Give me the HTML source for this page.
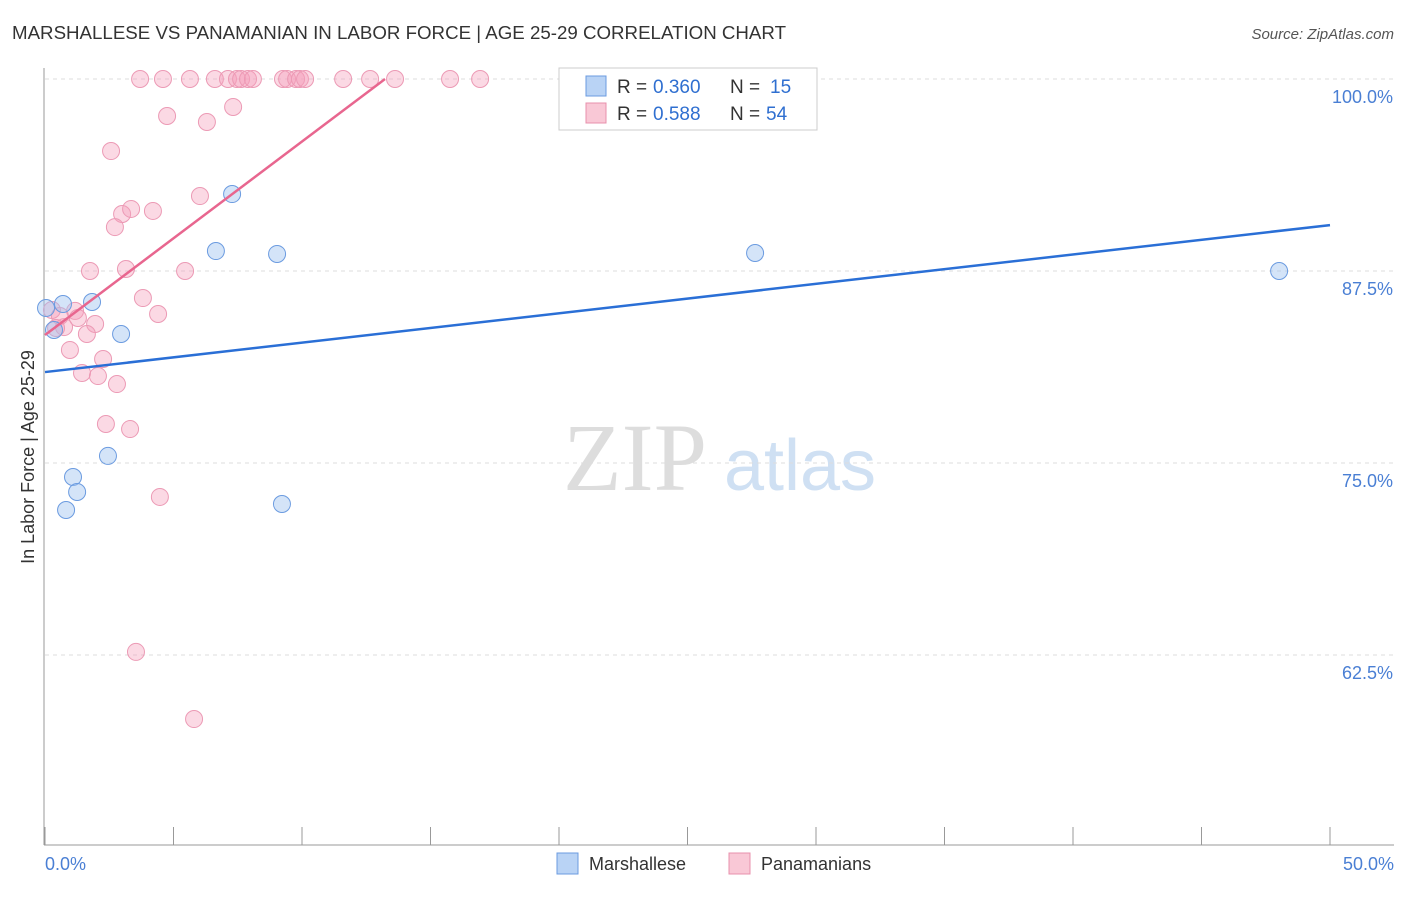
<!DOCTYPE html>
<html><head><meta charset="utf-8"><style>
body{margin:0;background:#fff;font-family:"Liberation Sans",sans-serif;}
</style></head><body>
<svg id="chart" width="1406" height="892" xmlns="http://www.w3.org/2000/svg">
<text x="12" y="39" font-size="18" fill="#333" textLength="774" lengthAdjust="spacingAndGlyphs">MARSHALLESE VS PANAMANIAN IN LABOR FORCE | AGE 25-29 CORRELATION CHART</text>
<text x="1394" y="39" font-size="15" fill="#555" text-anchor="end" font-style="italic">Source: ZipAtlas.com</text>
<g>
<text x="635" y="490" font-size="96" fill="#ddd" text-anchor="middle" font-family="Liberation Serif,serif">ZIP</text>
<text x="800" y="490" font-size="72" fill="#cfe0f3" text-anchor="middle">atlas</text>
</g>
<g id="grid"></g>
<line x1="44" y1="68" x2="44" y2="845" stroke="#999"/>
<line x1="44" y1="845" x2="1394" y2="845" stroke="#999"/>
<g id="ticks"></g>
<text x="34" y="457" font-size="18" fill="#333" text-anchor="middle" transform="rotate(-90 34 457)">In Labor Force | Age 25-29</text>
<text x="45" y="870" font-size="18" fill="#4a7fd4">0.0%</text>
<text x="1394" y="870" font-size="18" fill="#4a7fd4" text-anchor="end">50.0%</text>
<g id="pts"></g>
<g id="lines"></g>
<g>
<rect x="559" y="68" width="258" height="62" fill="#fff" stroke="#ccc"/>
<rect x="586" y="76" width="20" height="20" fill="#b9d3f5" stroke="#6b9be0"/>
<rect x="586" y="103" width="20" height="20" fill="#f9c8d6" stroke="#e890ac"/>
<text x="617" y="93" font-size="19" fill="#333">R =</text>
<text x="653" y="93" font-size="19" fill="#2f6fd0">0.360</text>
<text x="730" y="93" font-size="19" fill="#333">N =</text>
<text x="770" y="93" font-size="19" fill="#2f6fd0">15</text>
<text x="617" y="120" font-size="19" fill="#333">R =</text>
<text x="653" y="120" font-size="19" fill="#2f6fd0">0.588</text>
<text x="730" y="120" font-size="19" fill="#333">N =</text>
<text x="766" y="120" font-size="19" fill="#2f6fd0">54</text>
</g>
<g>
<rect x="557" y="853" width="21" height="21" fill="#b9d3f5" stroke="#6b9be0"/>
<text x="589" y="870" font-size="18" fill="#333">Marshallese</text>
<rect x="729" y="853" width="21" height="21" fill="#f9c8d6" stroke="#e890ac"/>
<text x="761" y="870" font-size="18" fill="#333">Panamanians</text>
</g>
</svg>
<script>
const yTicks=[100,87.5,75,62.5];
const yTickLabels=["100.0%","87.5%","75.0%","62.5%"];
const blueX=[0.04,0.35,0.70,1.83,2.96,1.09,1.25,0.82,2.45,6.65,7.28,9.03,9.22,27.63,48.02];
const blueY=[85.09,83.66,85.35,85.48,83.40,74.09,73.11,71.94,75.46,88.80,92.51,88.61,72.33,88.67,87.50];
const pinkX=[3.70,4.59,5.64,6.61,7.12,7.47,7.63,7.90,8.09,9.26,9.42,9.77,9.92,10.12,11.60,12.65,13.62,15.76,16.93,23.00,
4.75,6.30,7.32,2.57,3.00,3.35,4.20,2.72,6.03,1.75,3.15,5.45,3.81,4.40,1.17,0.27,0.58,1.28,1.95,0.74,1.63,0.43,0.97,2.26,1.44,2.06,2.80,2.37,3.31,4.47,3.54,5.80];
const pinkY=[100,100,100,100,100,100,100,100,100,100,100,100,100,100,100,100,100,100,100,100,
97.59,97.20,98.18,95.31,91.21,91.54,91.41,90.36,92.38,87.50,87.63,87.50,85.74,84.70,84.90,84.96,84.57,84.44,84.05,83.85,83.40,83.79,82.36,81.77,80.86,80.66,80.14,77.54,77.21,72.79,62.70,58.33];
const blueLine=[[0,80.92],[50,90.49]];
const pinkLine=[[0,83.33],[13.23,100]];
const X=v=>45+v*25.7, Y=v=>79+(100-v)*15.36;
const NS="http://www.w3.org/2000/svg";
function mk(p,t,a){const e=document.createElementNS(NS,t);for(const k in a)e.setAttribute(k,a[k]);document.getElementById(p).appendChild(e);return e;}
yTicks.forEach((v,i)=>{
 const g=mk('grid','line',{x1:45,x2:1394,y1:Y(v),y2:Y(v),stroke:'#ddd','stroke-dasharray':'4 4'});
 
 
 const t=mk('grid','text',{x:1393,y:Y(v)+24,'font-size':18,fill:'#4a7fd4','text-anchor':'end'});
 t.textContent=yTickLabels[i];
 
 
});
for(let i=0;i<=10;i++){
 const l=mk('ticks','line',{x1:X(i*5),x2:X(i*5),y1:827,y2:845,stroke:'#999'});
 
 
}
pinkX.forEach((x,i)=>{
 const c=mk('pts','circle',{cx:X(x),cy:Y(pinkY[i]),r:8.5,fill:'rgba(244,160,188,0.4)',stroke:'#ec9ab5','stroke-width':1});
 
 
});
blueX.forEach((x,i)=>{
 const c=mk('pts','circle',{cx:X(x),cy:Y(blueY[i]),r:8.5,fill:'rgba(160,195,240,0.45)',stroke:'#6b9be0','stroke-width':1});
 
 
});
const bl=mk('lines','line',{x1:X(blueLine[0][0]),y1:Y(blueLine[0][1]),x2:X(blueLine[1][0]),y2:Y(blueLine[1][1]),stroke:'#2a6fd6','stroke-width':2.5});


const pl=mk('lines','line',{x1:X(pinkLine[0][0]),y1:Y(pinkLine[0][1]),x2:X(pinkLine[1][0]),y2:Y(pinkLine[1][1]),stroke:'#e8668f','stroke-width':2.5});


</script>
</body></html>
